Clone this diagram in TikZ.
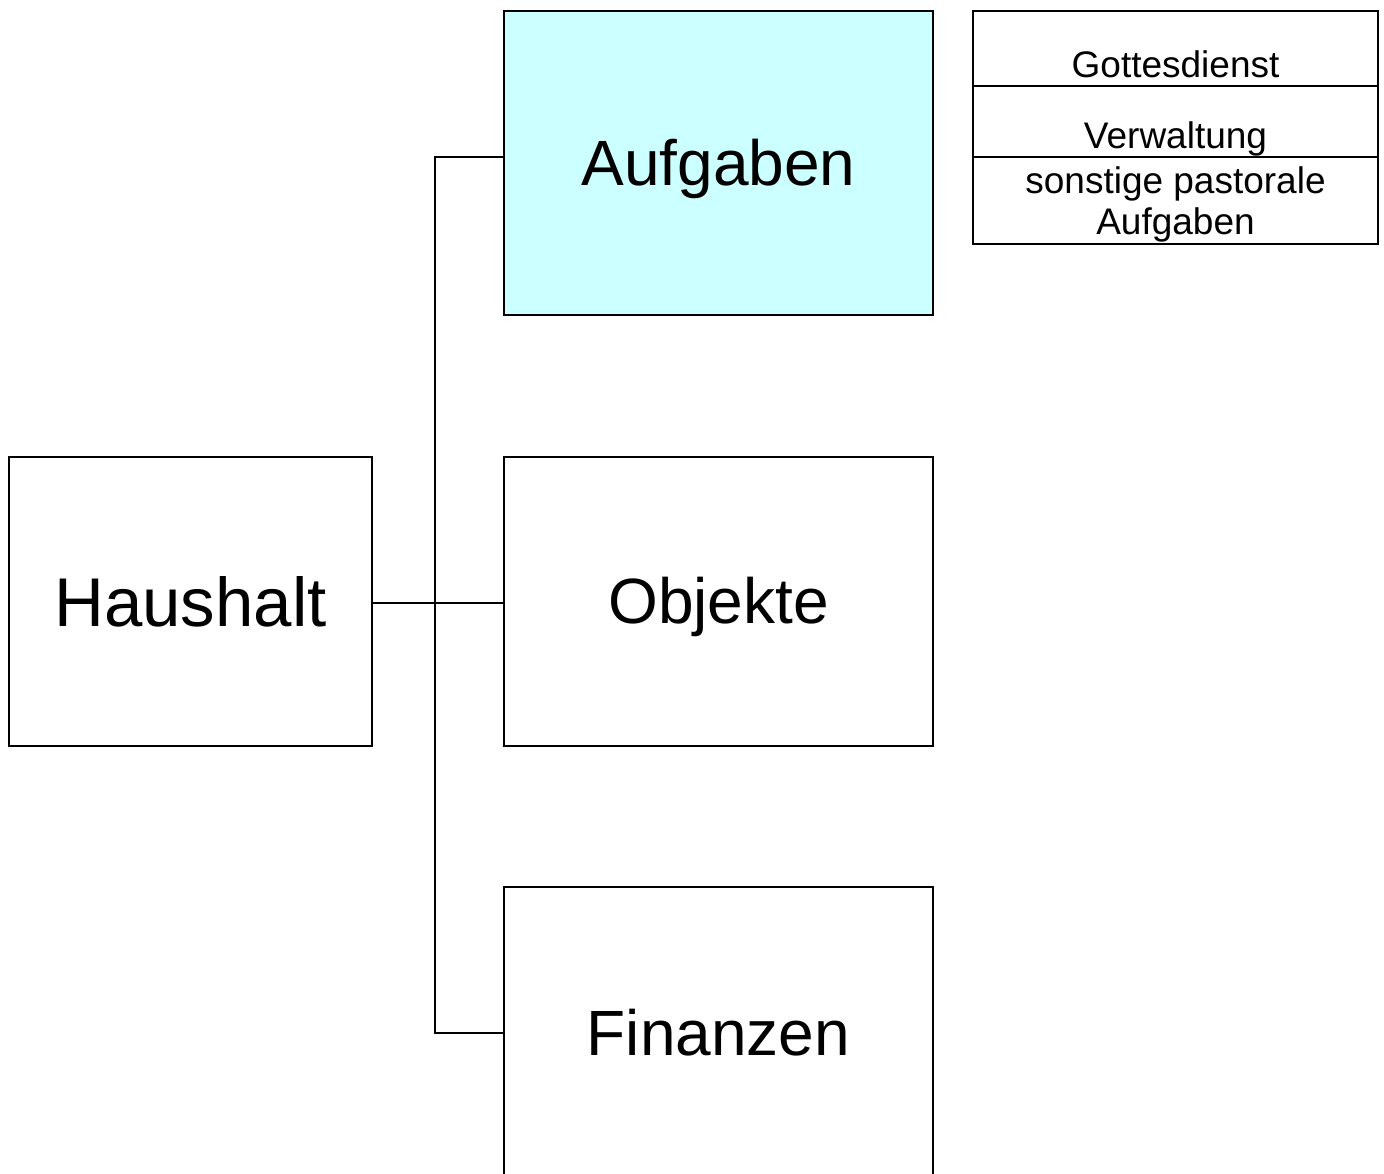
\documentclass[tikz,border=0pt]{standalone}
\usepackage{fontspec}
\setmainfont{Liberation Sans}
\definecolor{cyanlight}{HTML}{CCFFFF}
\begin{document}
\begin{tikzpicture}[x=0.5pt,y=-0.5pt,
  box/.style={draw, line width=1pt, inner sep=0pt, outer sep=0pt},
  big/.style={font=\fontsize{32}{38}\selectfont, anchor=base, inner sep=0pt},
  bigger/.style={font=\fontsize{34.5}{40}\selectfont, anchor=base, inner sep=0pt},
  small/.style={font=\fontsize{18.5}{21}\selectfont, anchor=base, inner sep=0pt},
  conn/.style={line width=1pt}]
\clip (0,0) rectangle (1384,1173);
\fill[white] (0,0) rectangle (1384,1173);
% main boxes
\node[box, fill=cyanlight, minimum width=214.5pt, minimum height=152pt] (auf) at (718.5,163) {};
\node[box, minimum width=214.5pt, minimum height=144.5pt] (obj) at (718.5,601.5) {};
\node[box, minimum width=214.5pt, minimum height=146pt] (fin) at (718.5,1033) {};
\node[box, minimum width=181.5pt, minimum height=144.5pt] (hh) at (190.5,601.5) {};
% labels
\node[big] (tauf) at (718.5,185) {Aufgaben};
\node[big] (tobj) at (718.5,623) {Objekte};
\node[big] (tfin) at (718.5,1055) {Finanzen};
\node[bigger] (thh) at (190.5,626) {Haushalt};
% table
\node[box, minimum width=202.5pt, minimum height=37.5pt] (gd) at (1175.5,48.5) {};
\node[box, minimum width=202.5pt, minimum height=35.5pt] (vw) at (1175.5,121.5) {};
\node[box, minimum width=202.5pt, minimum height=43.5pt] (sp) at (1175.5,200.5) {};
\node[small] (tgd) at (1175.5,77) {Gottesdienst};
\node[small] (tvw) at (1175.5,148) {Verwaltung};
\node[small] (tsp1) at (1175.5,193) {sonstige pastorale};
\node[small] (tsp2) at (1175.5,234) {Aufgaben};
% connectors
\coordinate (j) at (435,603);
\coordinate (ja) at ([yshift=3pt]auf.west);
\draw[conn] (hh.east |- j) -- (obj.west |- j);
\draw[conn] (ja) -| (j) |- (fin.west);
\end{tikzpicture}
\end{document}
